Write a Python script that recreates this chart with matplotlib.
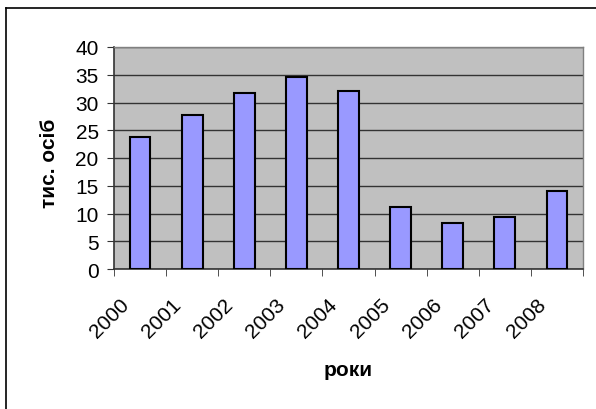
import matplotlib
matplotlib.use("Agg")
import matplotlib.pyplot as plt
from matplotlib.lines import Line2D
from matplotlib.transforms import ScaledTranslation
import numpy as np

years = ["2000", "2001", "2002", "2003", "2004", "2005", "2006", "2007", "2008"]
values = [23.8, 27.8, 31.8, 34.6, 32.1, 11.1, 8.2, 9.3, 14.0]
yticks = [0, 5, 10, 15, 20, 25, 30, 35, 40]

plt.rcParams['font.family'] = ['Liberation Sans', 'DejaVu Sans']

fig = plt.figure(figsize=(5.96, 4.10), dpi=100)
W, H = 596, 410
ax = fig.add_axes([114 / W, 1 - 270 / H, (583 - 114) / W, (270 - 48) / H])
ax.set_facecolor('#C0C0C0')

x = np.arange(len(years))
ax.bar(x, values, width=0.4, color='#9999FF', edgecolor='black', linewidth=1.5, zorder=3)

ax.set_xlim(-0.5, len(years) - 0.5)
ax.set_ylim(0, 40)
ax.set_yticks(yticks)
ax.set_yticklabels([str(v) for v in yticks], fontsize=15)
ax.yaxis.grid(True, color='#333333', linewidth=1, zorder=0)
ax.set_axisbelow(True)

ax.set_xticks(x)
ax.set_xticklabels(years, rotation=45, ha='right', va='center', rotation_mode='anchor', fontsize=15)
ax.tick_params(axis='x', length=0, pad=23)
offset = ScaledTranslation(-14 / 100, 0, fig.dpi_scale_trans)
for lab in ax.get_xticklabels():
    lab.set_transform(lab.get_transform() + offset)
# category boundary ticks
ax.set_xticks(np.arange(-0.5, len(years), 1.0), minor=True)
ax.tick_params(axis='x', which='minor', length=5, direction='out', color='#333333')
ax.tick_params(axis='y', length=5, direction='out', color='#333333', pad=6)

for s in ['top', 'right']:
    ax.spines[s].set_color('#808080')
    ax.spines[s].set_linewidth(1)
for s in ['left', 'bottom']:
    ax.spines[s].set_color('#333333')
    ax.spines[s].set_linewidth(1.2)

ax.set_ylabel('тис. осіб', fontsize=15, fontweight='bold')
ax.yaxis.set_label_coords(-0.118, 0.48)
ax.set_xlabel('роки', fontsize=15, fontweight='bold')
ax.xaxis.set_label_coords(0.5, -0.41)

# outer chart frame (top and left edges visible)
fig.add_artist(Line2D([6 / W, 6 / W], [0, 1 - 9 / H], transform=fig.transFigure, color='black', linewidth=1.2))
fig.add_artist(Line2D([6 / W, 1], [1 - 9 / H, 1 - 9 / H], transform=fig.transFigure, color='black', linewidth=1.2))

fig.savefig('out.png', dpi=100, facecolor='white')
